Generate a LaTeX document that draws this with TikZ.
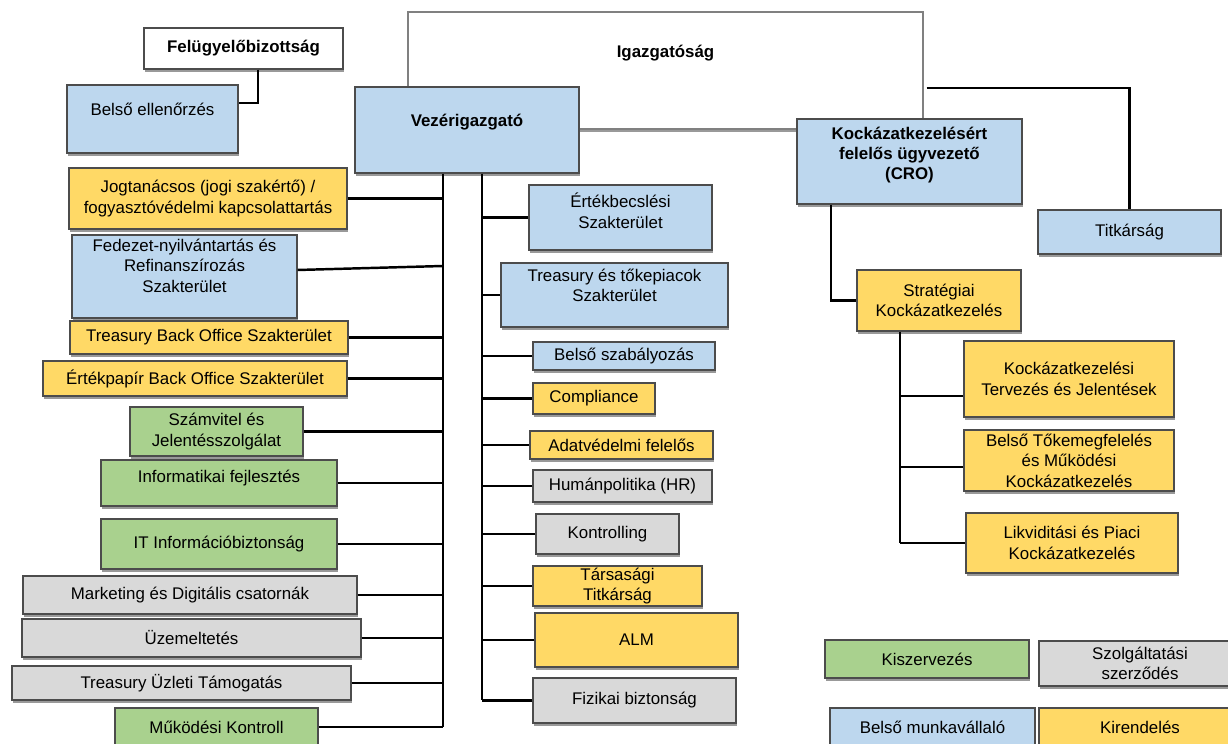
\documentclass[tikz,border=0pt]{standalone}
\usepackage{fontspec}
\setmainfont{Liberation Sans}
\usetikzlibrary{shadows}
\definecolor{kek}{HTML}{BDD7EE}
\definecolor{sarga}{HTML}{FFD966}
\definecolor{zold}{HTML}{A9D18E}
\definecolor{szurke}{HTML}{D9D9D9}
\newcommand\betu{\fontsize{9.6}{11.6}\selectfont}
\tikzset{
  egyseg/.style={draw=black!70, line width=0.6pt, align=center, font=\betu,
    drop shadow={shadow xshift=0.5pt, shadow yshift=-1.5pt, fill=black!40, opacity=1}},
  belsomv/.style={egyseg, fill=kek},
  kiszerv/.style={egyseg, fill=zold},
  szerzodes/.style={egyseg, fill=szurke},
  kirend/.style={egyseg, fill=sarga},
  meret/.style 2 args={minimum width=#1cm, minimum height=#2cm},
  felso/.style 2 args={label={[anchor=north, yshift=#1cm, align=center, font=\betu]north:#2}},
  vonal/.style={black, line width=1.4pt}
}
\begin{document}
\begin{tikzpicture}[x=2mm,y=2mm]
    \tikzstyle{every node}+=[inner sep=0pt]
    \useasboundingbox (0,0) rectangle (122.8,-74.4);
    \node [egyseg, draw=black!50, line width=0.8pt, fill=white, meret={10.3}{2.34}, felso={-0.66}{\bfseries Igazgatóság}] (igt) at (66.55,-7.05) {};
    \node [egyseg, fill=white, meret={3.98}{0.82}, font=\betu\bfseries] (fb) at (24.35,-4.85) {Felügyelőbizottság};
    \node [belsomv, meret={3.42}{1.36}, felso={-0.37}{Belső ellenőrzés}] (be) at (15.25,-11.9) {};
    \node [belsomv, meret={4.48}{1.72}, felso={-0.54}{\bfseries Vezérigazgató}] (vez) at (46.7,-13.0) {};
    \node [belsomv, meret={4.5}{1.7}, felso={-0.16}{\bfseries Kockázatkezelésért\\\bfseries felelős ügyvezető\\\bfseries (CRO)}] (cro) at (90.95,-16.15) {};
    \node [belsomv, meret={3.66}{0.88}] (tit) at (112.95,-23.2) {Titkárság};
    \node [kirend, meret={5.56}{1.22}] (jog) at (20.8,-19.85) {Jogtanácsos (jogi szakértő) /\\fogyasztóvédelmi kapcsolattartás};
    \node [belsomv, meret={4.5}{1.66}, felso={-0.08}{Fedezet-nyilvántartás és\\Refinanszírozás\\Szakterület}] (fed) at (18.45,-27.65) {};
    \node [kirend, meret={5.56}{0.66}] (tbo) at (20.9,-33.75) {Treasury Back Office Szakterület};
    \node [kirend, meret={6.08}{0.7}] (ebo) at (19.5,-37.85) {Értékpapír Back Office Szakterület};
    \node [kiszerv, meret={3.46}{0.98}] (szv) at (21.65,-43.15) {Számvitel és\\Jelentésszolgálat};
    \node [kiszerv, meret={4.72}{0.92}, felso={-0.2}{Informatikai fejlesztés}] (inf) at (21.9,-48.3) {};
    \node [kiszerv, meret={4.72}{1.0}] (its) at (21.9,-54.4) {IT Információbiztonság};
    \node [szerzodes, meret={6.68}{0.76}] (mkt) at (19.0,-59.5) {Marketing és Digitális csatornák};
    \node [szerzodes, meret={6.78}{0.76}] (uzm) at (19.15,-63.8) {Üzemeltetés};
    \node [szerzodes, meret={6.78}{0.68}] (tut) at (18.15,-68.3) {Treasury Üzleti Támogatás};
    \node [kiszerv, meret={4.06}{0.76}] (mk) at (21.65,-72.7) {Működési Kontroll};
    \node [belsomv, meret={3.66}{1.3}, felso={-0.17}{Értékbecslési\\Szakterület}] (ert) at (62.05,-21.75) {};
    \node [belsomv, meret={4.54}{1.28}, felso={-0.12}{Treasury és tőkepiacok\\Szakterület}] (tre) at (61.45,-29.5) {};
    \node [belsomv, meret={3.64}{0.56}] (bsz) at (62.4,-35.6) {Belső szabályozás};
    \node [kirend, meret={2.44}{0.62}] (cmp) at (59.4,-39.85) {Compliance};
    \node [kirend, meret={3.66}{0.56}] (adv) at (62.15,-44.5) {Adatvédelmi felelős};
    \node [szerzodes, meret={3.58}{0.64}] (hum) at (62.25,-48.6) {Humánpolitika (HR)};
    \node [szerzodes, meret={2.86}{0.8}] (kon) at (60.75,-53.4) {Kontrolling};
    \node [kirend, meret={3.38}{0.8}] (tts) at (61.75,-58.6) {Társasági\\Titkárság};
    \node [kirend, meret={4.06}{1.08}] (alm) at (63.65,-64.0) {ALM};
    \node [szerzodes, meret={4.06}{0.9}] (fiz) at (63.45,-70.05) {Fizikai biztonság};
    \node [kirend, meret={3.28}{1.22}] (str) at (93.9,-30.05) {Stratégiai\\Kockázatkezelés};
    \node [kirend, meret={4.2}{1.52}] (ktj) at (106.9,-37.9) {Kockázatkezelési\\Tervezés és Jelentések};
    \node [kirend, meret={4.2}{1.22}] (btm) at (106.9,-46.05) {Belső Tőkemegfelelés\\és Működési\\Kockázatkezelés};
    \node [kirend, meret={4.24}{1.2}] (lpk) at (107.2,-54.3) {Likviditási és Piaci\\Kockázatkezelés};
    \node [kiszerv, meret={4.08}{0.76}] (lkisz) at (92.7,-65.9) {Kiszervezés};
    \node [szerzodes, meret={4.04}{0.9}] (lszerz) at (114.0,-66.35) {Szolgáltatási\\szerződés};
    \node [belsomv, meret={4.1}{0.76}] (lbelso) at (93.25,-72.7) {Belső munkavállaló};
    \node [kirend, meret={4.04}{0.76}] (lkir) at (114.0,-72.7) {Kirendelés};
    \coordinate (bt) at ([xshift=-0.48cm]vez.south);
    \coordinate (jt) at ([xshift=0.3cm]vez.south);
    \coordinate (st) at ([xshift=-0.78cm]str.south);
    \draw [vonal] ([xshift=0.29cm]fb.south) |- ([yshift=0.32cm]be.east);
    \draw [vonal] ([shift={(0.06cm,-0.35cm)}]igt.east) -| (tit.north);
    \draw [vonal] ([xshift=-1.57cm]cro.south) |- (str.west);
    \draw [vonal] (bt) -- (bt |- mk.east);
    \foreach \n in {jog,tbo,ebo,szv,inf,its,mkt,uzm,tut,mk}
      \draw [vonal] (\n.east) -- (\n.east -| bt);
    \draw [vonal] ([yshift=0.13cm]fed.east) -- ([yshift=0.21cm]fed.east -| bt);
    \draw [vonal] (jt) -- (jt |- fiz.west);
    \foreach \n in {ert,tre,bsz,cmp,adv,hum,kon,tts,alm,fiz}
      \draw [vonal] (\n.west) -- (\n.west -| jt);
    \draw [vonal] (st) -- (st |- lpk.west);
    \draw [vonal] ([yshift=-0.34cm]ktj.west) -- ([yshift=-0.34cm]ktj.west -| st);
    \draw [vonal] ([yshift=-0.13cm]btm.west) -- ([yshift=-0.13cm]btm.west -| st);
    \draw [vonal] (lpk.west) -- (lpk.west -| st);
\end{tikzpicture}
\end{document}
